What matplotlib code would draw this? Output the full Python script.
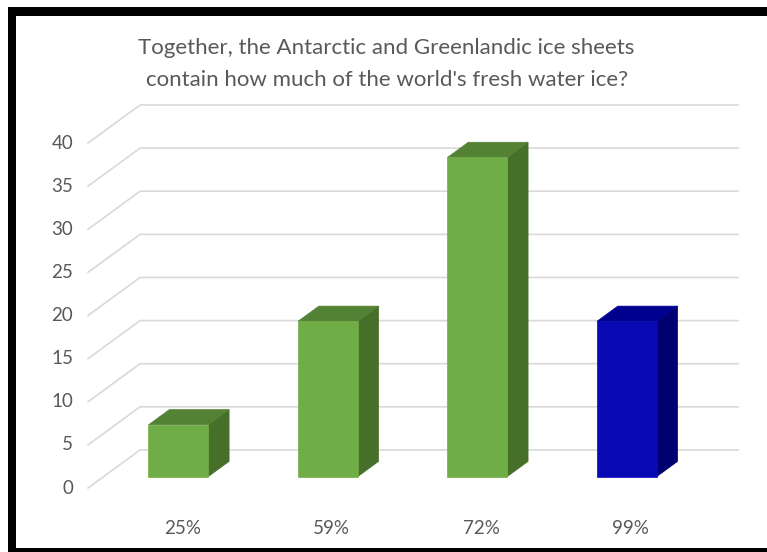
import matplotlib
matplotlib.use('Agg')
import matplotlib.pyplot as plt
from matplotlib.patches import Polygon, Rectangle

# data
categories = ['25%', '59%', '72%', '99%']
votes = [6, 18, 37, 18]
ticks = [0, 5, 10, 15, 20, 25, 30, 35, 40]
title_lines = ["Together, the Antarctic and Greenlandic ice sheets",
               "contain how much of the world's fresh water ice?"]

front_cols = ['#70AD47', '#70AD47', '#70AD47', '#0A0AB4']
top_cols = ['#548235', '#548235', '#548235', '#00008F']
side_cols = ['#466F2A', '#466F2A', '#466F2A', '#000070']

# fake 3d: depth offset in data units
DX = 0.348
DY = 4.41


def proj(x, v, d):
    return (x + d * DX, v + d * DY)


fig = plt.figure(figsize=(7.67, 5.52), dpi=100)
ax = fig.add_axes([0, 0, 1, 1])
ax.set_xlim(-0.589, 4.542)
ax.set_ylim(-7.42, 56.58)
ax.axis('off')

grid = '#D9D9D9'
txt = '#595959'

# gridlines: diagonal on the side wall + back wall lines
for t in ticks:
    a = proj(0, t, 0)
    b = proj(0, t, 1)
    c = proj(len(categories), t, 1)
    ax.plot([a[0], b[0], c[0]], [a[1], b[1], c[1]], color=grid, lw=1.2,
            solid_joinstyle='miter', zorder=1)
    ax.text(-0.1, t, str(t), ha='right', va='center', fontsize=13.5,
            color=txt, family='Lato')

# bars
w = 0.4
d0, d1 = 0.3, 0.7
for i, v in enumerate(votes):
    x0 = i + 0.5 - w / 2
    x1 = i + 0.5 + w / 2
    front = [proj(x0, 0, d0), proj(x1, 0, d0), proj(x1, v, d0), proj(x0, v, d0)]
    top = [proj(x0, v, d0), proj(x1, v, d0), proj(x1, v, d1), proj(x0, v, d1)]
    side = [proj(x1, 0, d0), proj(x1, 0, d1), proj(x1, v, d1), proj(x1, v, d0)]
    ax.add_patch(Polygon(side, closed=True, fc=side_cols[i], ec=side_cols[i], lw=0.5, zorder=3))
    ax.add_patch(Polygon(top, closed=True, fc=top_cols[i], ec=top_cols[i], lw=0.5, zorder=3))
    ax.add_patch(Polygon(front, closed=True, fc=front_cols[i], ec=front_cols[i], lw=0.5, zorder=4))
    ax.text(i + 0.63, -4.64, categories[i], ha='center', va='center',
            fontsize=13.5, color=txt, family='Lato')

# title
fig.text(0.504, 1 - 48 / 552, title_lines[0], ha='center', va='center',
         fontsize=16, color=txt, family='Lato')
fig.text(0.504, 1 - 80 / 552, title_lines[1], ha='center', va='center',
         fontsize=16, color=txt, family='Lato')

# black frame (left, top, bottom)
fig.patches.append(Rectangle((8 / 767, 0), 8 / 767, 1 - 7 / 552, transform=fig.transFigure,
                             fc='black', ec='none'))
fig.patches.append(Rectangle((8 / 767, 1 - 16 / 552), 1, 9 / 552, transform=fig.transFigure,
                             fc='black', ec='none'))
fig.patches.append(Rectangle((8 / 767, 0), 1, 4 / 552, transform=fig.transFigure,
                             fc='black', ec='none'))

fig.savefig('out.png', dpi=100)
